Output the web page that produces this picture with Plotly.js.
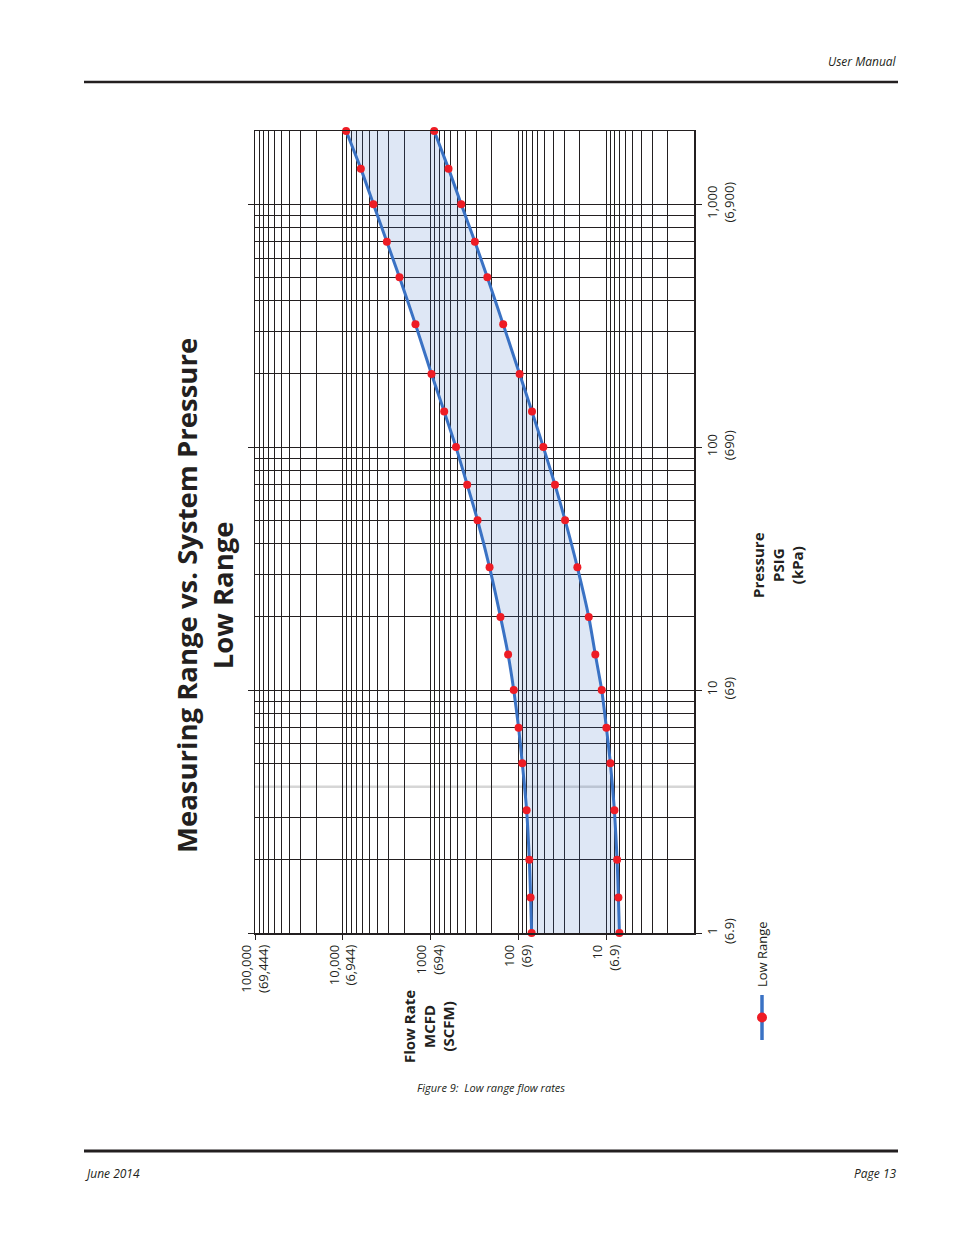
<!DOCTYPE html>
<html>
<head>
<meta charset="utf-8">
<script src="https://cdn.plot.ly/plotly-3.0.1.min.js"></script>
<style>
html,body{margin:0;padding:0;background:#ffffff;}
#chart{width:954px;height:1235px;}
</style>
</head>
<body>
<div id="chart"></div>
<script>
// ---- data ----
const pressurePsig = [1, 1.4, 2, 3.2, 5, 7, 10, 14, 20, 32, 50, 70, 100, 140, 200, 320, 500, 700, 1000, 1400, 2000];
const flowMaxMcfd  = [70.7, 72.6, 75.1, 80.6, 90.3, 99.5, 113, 131, 160, 213, 292, 383, 514, 700, 977, 1487, 2262, 3150, 4479, 6233, 9171];
const flowMinMcfd  = [7.07, 7.26, 7.51, 8.06, 8.96, 9.95, 11.25, 13.3, 15.8, 21.3, 29.4, 38.3, 52.0, 70.0, 96.9, 149, 226, 313, 448, 625, 910];
const seriesName = "Low Range";

const flowTickVals = [100000, 10000, 1000, 100, 10];
const flowTickText = ["100,000<br>(69,444)", "10,000<br>(6,944)", "1000<br>(694)", "100<br>(69)", "10<br>(6.9)"];
const pressureTickVals = [1, 10, 100, 1000];
const pressureTickText = ["1<br>(6.9)", "10<br>(69)", "100<br>(690)", "1,000<br>(6,900)"];
const flowDecades = [1, 10, 100, 1000, 10000];
const pressureDecades = [1, 10, 100];
const minorSteps = [2, 3, 4, 5, 6, 7, 8, 9];
const greyPressureLine = 4;

// ---- page geometry ----
const W = 954, H = 1235;
const M = {l: 255, r: 260, t: 131, b: 302};
const PW = W - M.l - M.r, PH = H - M.t - M.b;
const px = x => (x - M.l) / PW;
const py = y => (H - M.b - y) / PH;

const ink = '#231f20';
const blue = '#3a72c4';
const red = '#ee1c25';
const FONT = 'Open Sans, Noto Sans, sans-serif';

const flowMinor = flowDecades.flatMap(d => minorSteps.map(k => k * d));
const pressureMinor = pressureDecades.flatMap(d => minorSteps.map(k => k * d)).filter(v => v !== greyPressureLine);

const traces = [
  {
    type: 'scatter', mode: 'lines+markers', name: seriesName,
    x: flowMaxMcfd, y: pressurePsig,
    line: {color: blue, width: 3, shape: 'spline', smoothing: 0.6},
    marker: {color: red, size: 8},
    cliponaxis: false, showlegend: false, hoverinfo: 'skip'
  },
  {
    type: 'scatter', mode: 'lines+markers', name: seriesName,
    x: flowMinMcfd, y: pressurePsig,
    fill: 'tonextx', fillcolor: 'rgba(58,114,196,0.17)',
    line: {color: blue, width: 3, shape: 'spline', smoothing: 0.6},
    marker: {color: red, size: 8},
    cliponaxis: false, showlegend: false, hoverinfo: 'skip'
  }
];

const annotations = [
  {text: 'Measuring Range vs. System Pressure<br>Low Range', x: px(204), y: py(596), textangle: -90,
   font: {family: FONT, size: 27.5, color: ink, weight: 700}},
  {text: 'Pressure<br>PSIG<br>(kPa)', x: px(777), y: py(565), textangle: -90,
   font: {family: FONT, size: 15, color: ink, weight: 700}},
  {text: 'Flow Rate<br>MCFD<br>(SCFM)', x: px(428), y: py(1027), textangle: -90,
   font: {family: FONT, size: 15, color: ink, weight: 700}},
  {text: seriesName, x: px(762), y: py(954), textangle: -90,
   font: {family: FONT, size: 13, color: ink}},
  {text: '<i>User Manual</i>', x: px(899), y: py(61), xanchor: 'right',
   font: {family: FONT, size: 12, color: ink}},
  {text: '<i>June 2014</i>', x: px(83), y: py(1173), xanchor: 'left',
   font: {family: FONT, size: 12, color: ink}},
  {text: '<i>Page 13</i>', x: px(899), y: py(1173), xanchor: 'right',
   font: {family: FONT, size: 12, color: ink}},
  {text: '<i>Figure 9:\u00a0 Low range flow rates</i>', x: px(491), y: py(1087),
   font: {family: FONT, size: 11, color: ink}}
].map(a => Object.assign({xref: 'paper', yref: 'paper', showarrow: false, xanchor: 'center', yanchor: 'middle'}, a));

const shapes = [
  {type: 'line', xref: 'paper', yref: 'paper', x0: px(84), x1: px(898), y0: py(82), y1: py(82),
   line: {color: ink, width: 2.6}},
  {type: 'line', xref: 'paper', yref: 'paper', x0: px(84), x1: px(898), y0: py(1151), y1: py(1151),
   line: {color: ink, width: 2.8}},
  {type: 'line', xref: 'paper', yref: 'y', x0: 0, x1: 1, y0: greyPressureLine, y1: greyPressureLine,
   line: {color: '#d6d6d6', width: 2.5}, layer: 'below'},
  {type: 'line', xref: 'paper', yref: 'paper', x0: px(762), x1: px(762), y0: py(995), y1: py(1040),
   line: {color: blue, width: 3.5}},
  {type: 'circle', xref: 'paper', yref: 'paper', xsizemode: 'pixel', ysizemode: 'pixel',
   xanchor: px(762), yanchor: py(1017.5), x0: -5, x1: 5, y0: -5, y1: 5,
   fillcolor: red, line: {width: 0}}
];

const axisCommon = {
  type: 'log', tickmode: 'array', tickangle: -90,
  ticks: 'outside', tickcolor: ink, tickwidth: 1,
  showline: true, linecolor: ink, linewidth: 1.5,
  showgrid: true, gridcolor: ink, gridwidth: 1, zeroline: false,
  tickfont: {family: FONT, size: 13, color: ink},
  fixedrange: true
};

const layout = {
  width: W, height: H,
  margin: M,
  paper_bgcolor: '#ffffff', plot_bgcolor: '#ffffff',
  font: {family: FONT, color: ink},
  showlegend: false,
  hovermode: false,
  xaxis: Object.assign({}, axisCommon, {
    range: [5, 0], tickvals: flowTickVals, ticktext: flowTickText,
    ticklen: 5, mirror: true,
    minor: {tickvals: flowMinor, showgrid: true, gridcolor: ink, gridwidth: 1, ticks: ''}
  }),
  yaxis: Object.assign({}, axisCommon, {
    range: [0, Math.log10(2000)], side: 'right', tickvals: pressureTickVals, ticktext: pressureTickText,
    ticklen: 6, mirror: 'ticks',
    minor: {tickvals: pressureMinor, showgrid: true, gridcolor: ink, gridwidth: 1, ticks: ''}
  }),
  annotations: annotations,
  shapes: shapes
};

Plotly.newPlot('chart', traces, layout, {displayModeBar: false, staticPlot: true});
</script>
</body>
</html>
